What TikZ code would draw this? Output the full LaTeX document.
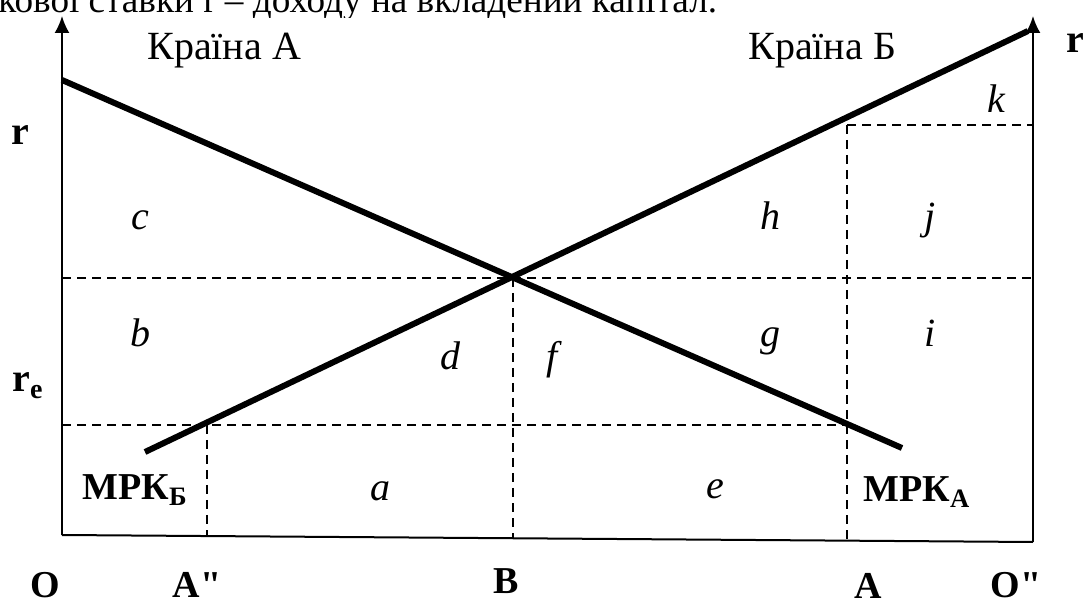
\documentclass[tikz,border=0pt]{standalone}
\usepackage{fontspec}
\setmainfont{Liberation Serif}
\newfontfamily\plainserif{Liberation Serif}
\usetikzlibrary{arrows.meta}

\tikzset{
  axis/.style={line width=1pt, -{Latex[length=8.5pt,width=7.5pt]}},
  mpk/.style={line width=3pt},
  guide/.style={line width=0.7pt, dash pattern=on 4.5pt off 3pt},
  area/.style={font=\fontsize{20}{24}\selectfont\itshape, anchor=base},
  tick/.style={font=\plainserif\fontsize{19}{22}\selectfont\bfseries, anchor=base},
  rate/.style={font=\fontsize{20}{24}\selectfont\bfseries, anchor=base},
  country/.style={font=\fontsize{20}{24}\selectfont, anchor=base west, inner sep=0},
}

\begin{document}
\begin{tikzpicture}[x=0.5pt,y=-0.5pt]
  \useasboundingbox (0,0) rectangle (1084,599);
  % caption line cut off at the top
  \begin{scope}
    \clip (0,0) rectangle (1084,18);
    \node[country, font=\fontsize{18.6}{22}\selectfont] (caption) at (-2,13) {ковоï ставки r – доходу на вкладений капітал.};
  \end{scope}

  \coordinate (O) at (62,535);
  \coordinate (O2) at (1033,542);
  \coordinate (Otop) at (62,16);
  \coordinate (O2top) at (1033,16);
  \coordinate (Astart) at (62,80);
  \coordinate (Aend) at (902,448);
  \coordinate (Bstart) at (145,452);
  \coordinate (Bend) at (1028,31);
  \coordinate (E) at (513,278);
  \coordinate (eqL) at (62,278);
  \coordinate (eqR) at (1033,278);
  \coordinate (reL) at (62,425);
  \coordinate (reA) at (847,425);
  \coordinate (A2top) at (207,425);
  \coordinate (A2bot) at (207,536);
  \coordinate (Bbot) at (513,539);
  \coordinate (Atop) at (847,125);
  \coordinate (Abot) at (847,541);
  \coordinate (kR) at (1033,125);

  % dashed guides
  \draw[guide] (eqL) -- (eqR);
  \draw[guide] (reL) -- (reA);
  \draw[guide] (A2top) -- (A2bot);
  \draw[guide] (E) -- (Bbot);
  \draw[guide] (Atop) -- (Abot);
  \draw[guide] (Atop) -- (kR);

  % axes
  \draw[line width=1pt] (O) -- (O2);
  \draw[axis] (O) -- (Otop);
  \draw[axis] (O2) -- (O2top);

  % marginal product curves
  \draw[mpk] (Astart) -- (Aend);
  \draw[mpk] (Bstart) -- (Bend);

  \node[country] (cntA) at (147,60) {Країна А};
  \node[country] (cntB) at (748,60) {Країна Б};

  \node[rate] (rL) at (20,145) {r};
  \node[rate] (rR) at (1075,53) {r};
  \node[rate] (re) at (28,392) {r\textsubscript{e}};

  \node[area] (c) at (140,230) {c};
  \node[area] (h) at (770,230) {h};
  \node[area] (j) at (930,230) {j};
  \node[area] (k) at (996,113) {k};
  \node[area] (b) at (140,347) {b};
  \node[area] (d) at (450,370) {d};
  \node[area] (f) at (552,370) {f};
  \node[area] (g) at (770,347) {g};
  \node[area] (i) at (930,347) {i};
  \node[area] (a) at (380,501) {a};
  \node[area] (e) at (715,499) {e};

  \node[tick, anchor=base west, inner sep=0] (mpkB) at (82,500) {МРК\textsubscript{Б}};
  \node[tick, anchor=base west, inner sep=0] (mpkA) at (863,502) {МРК\textsubscript{А}};

  \node[tick] (lO) at (45,597) {O};
  \node[tick] (lA2) at (197,597) {A"};
  \node[tick] (lB) at (506,593) {B};
  \node[tick] (lA) at (868,598) {A};
  \node[tick] (lO2) at (1016,597) {O"};
\end{tikzpicture}
\end{document}
